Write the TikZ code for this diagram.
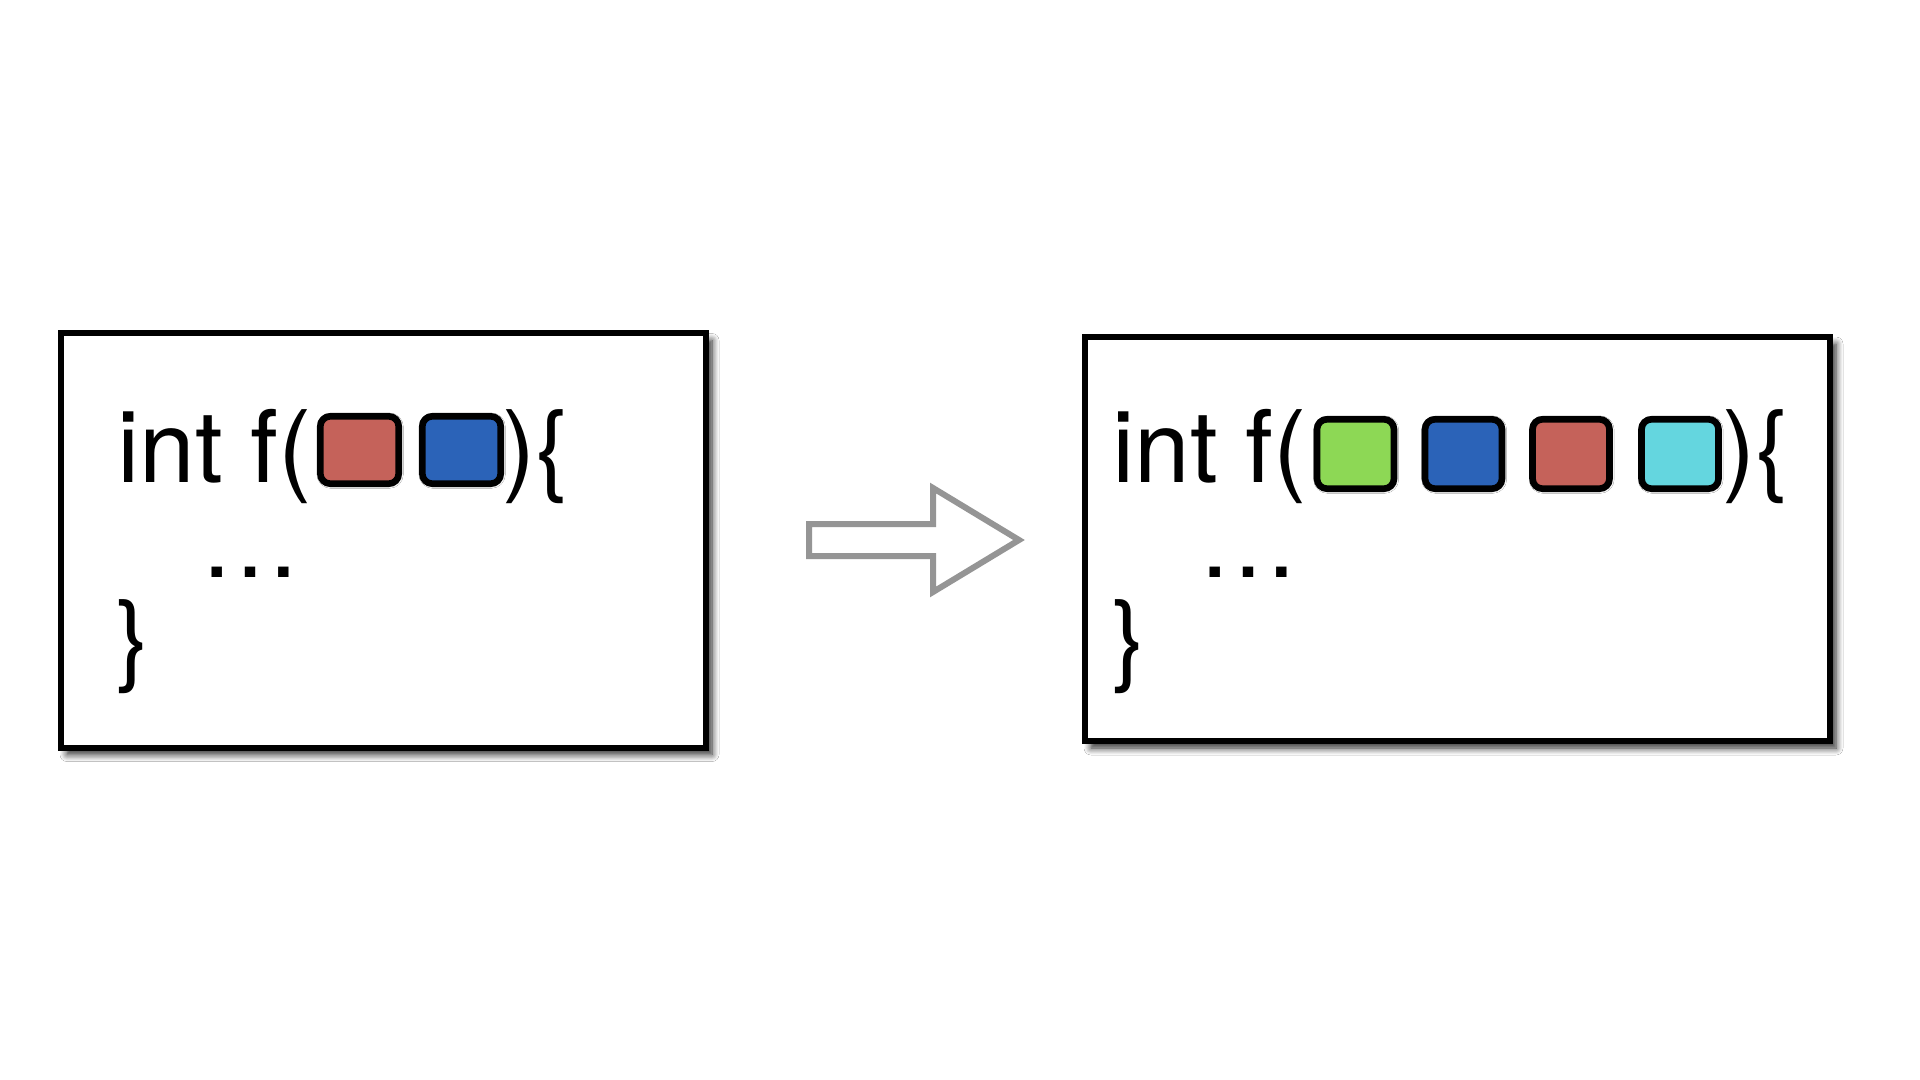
\documentclass[tikz,border=0pt]{standalone}
\usepackage{fontspec}
\setmainfont{TeX Gyre Heros}
\usetikzlibrary{shadows.blur}
\definecolor{cred}{HTML}{C5625A}
\definecolor{cblue}{HTML}{2B63B8}
\definecolor{cgreen}{HTML}{8DD855}
\definecolor{ccyan}{HTML}{64D6DF}
\definecolor{arrowgray}{HTML}{959595}
\begin{document}
\begin{tikzpicture}[x=0.5pt,y=-0.5pt,
  codebox/.style={draw=black,line width=3pt,fill=white,inner sep=0pt,
    blur shadow={shadow xshift=3pt,shadow yshift=-3.5pt,shadow blur radius=3.5pt,shadow blur steps=8,shadow opacity=85}},
  argbox/.style={draw=black,line width=3.3pt,rounded corners=5pt,inner sep=0pt,
    blur shadow={shadow xshift=0.3pt,shadow yshift=-0.3pt,shadow blur radius=2pt,shadow opacity=55}},
  smallarg/.style={argbox,minimum width=39.2pt,minimum height=33.7pt},
  bigarg/.style={argbox,minimum width=38.5pt,minimum height=34.7pt},
  code/.style={font=\fontsize{50}{60}\selectfont,inner sep=0pt,anchor=base west},
  bigarrow/.style={draw=arrowgray,line width=3pt,fill=white,line join=miter}]
\useasboundingbox (0,0) rectangle (1920,1080);
\fill[white] (0,0) rectangle (1920,1080);

% left code box
\node[codebox,minimum width=322.5pt,minimum height=207pt] (lbox) at (383.5,540.5) {};
\node[code] (lint) at (117,482) {int f(};
\node[smallarg,fill=cred] (lred) at (359.5,450) {};
\node[smallarg,fill=cblue] (lblue) at (461.5,450) {};
\node[code] (lclose) at (502,482) {)\{};
\node[code] (ldots) at (200,577) {…};
\node[code] (lend) at (116,672) {\}};

% right code box
\node[codebox,minimum width=372.5pt,minimum height=202pt] (rbox) at (1457.5,539) {};
\node[code] (rint) at (1112,482) {int f(};
\node[bigarg,fill=cgreen] (rgreen) at (1355.5,454) {};
\node[bigarg,fill=cblue] (rblue) at (1463.5,454) {};
\node[bigarg,fill=cred] (rred) at (1571,454) {};
\node[bigarg,fill=ccyan] (rcyan) at (1680,454) {};
\node[code] (rclose) at (1722,482) {)\{};
\node[code] (rdots) at (1198,577) {…};
\node[code] (rend) at (1112,672) {\}};

% block arrow
\coordinate (a1) at (809,524);
\coordinate (a2) at (933,524);
\coordinate (a3) at (933,488);
\coordinate (a4) at (1019,540);
\coordinate (a5) at (933,592);
\coordinate (a6) at (933,556);
\coordinate (a7) at (809,556);
\draw[bigarrow] (a1) -- (a2) -- (a3) -- (a4) -- (a5) -- (a6) -- (a7) -- cycle;
\end{tikzpicture}
\end{document}
